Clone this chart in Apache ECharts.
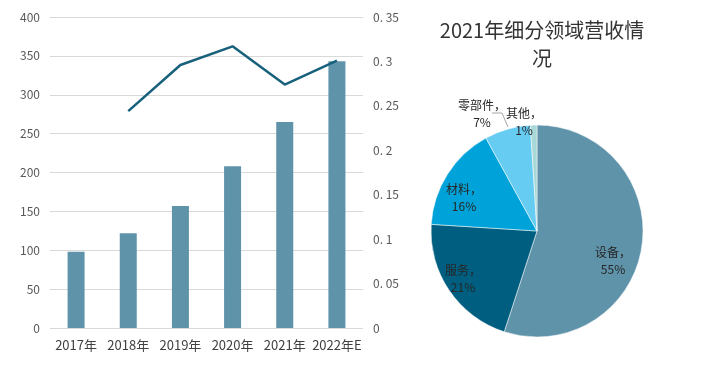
<!DOCTYPE html>
<html><head><meta charset="utf-8">
<script src="https://cdn.jsdelivr.net/npm/echarts@6/dist/echarts.min.js"></script>
<style>html,body{margin:0;padding:0;background:#fff}#c{width:702px;height:367px}</style>
</head><body><div id="c"></div>
<script>
const years = ['2017年','2018年','2019年','2020年','2021年','2022年E'];
const revenue = [98, 122, 157, 208, 265, 343];
const growth = [null, 0.244, 0.296, 0.317, 0.274, 0.301];
const leftTicks = {min: 0, max: 400, interval: 50};
const rightTicks = {min: 0, max: 0.35, interval: 0.05};
const pieNames = ['设备','服务','材料','零部件','其他'];
const pieValues = [55, 21, 16, 7, 1];
const pieColors = ['#5f93aa','#005f80','#00a3d9','#66ccf2','#a8d8d8'];
const pieTitle = '2021年细分领域营收情\n况';

const font = 'Noto Sans CJK SC';
const chart = echarts.init(document.getElementById('c'), null, {renderer:'canvas'});
// label offsets (px) relative to pie center, for each slice label
const labelPos = [[76,30],[-74,48],[-73,-33],[-55,-117],[-13,-109]];
const pieCx = 537, pieCy = 231;
chart.setOption({
  animation: false,
  backgroundColor: '#fff',
  textStyle: {fontFamily: font},
  title: {
    text: pieTitle, left: pieCx, top: 11, textAlign: 'center',
    textStyle: {fontFamily: font, fontSize: 20, fontWeight: 'normal', color: '#333', lineHeight: 28}
  },
  grid: {left: 50, right: 339, top: 17, bottom: 39},
  xAxis: {
    type: 'category', data: years,
    axisLine: {show: false}, axisTick: {show: false},
    axisLabel: {color: '#404040', fontSize: 13, margin: 11, interval: 0}
  },
  yAxis: [
    {type: 'value', min: leftTicks.min, max: leftTicks.max, interval: leftTicks.interval,
     axisLine: {show: false}, axisTick: {show: false},
     axisLabel: {color: '#595959', fontSize: 12, margin: 10},
     splitLine: {lineStyle: {color: '#d9d9d9', width: 1}}},
    {type: 'value', min: rightTicks.min, max: rightTicks.max, interval: rightTicks.interval,
     axisLine: {show: false}, axisTick: {show: false},
     axisLabel: {color: '#595959', fontSize: 12, margin: 10,
       formatter: v => v === 0 ? '0' : String(+v.toFixed(2)).replace('.', '. ')},
     splitLine: {show: false}}
  ],
  series: [
    {type: 'bar', data: revenue, barWidth: 17, itemStyle: {color: '#5f93aa'}, yAxisIndex: 0},
    {type: 'line', data: growth, yAxisIndex: 1, symbol: 'none', connectNulls: false,
     lineStyle: {color: '#17617c', width: 2.5}},
    {type: 'pie', center: [pieCx, pieCy], radius: 106, startAngle: 90, clockwise: true,
     data: pieNames.map((n,i) => ({name: n, value: pieValues[i], itemStyle: {color: pieColors[i]}})),
     itemStyle: {borderColor: '#fff', borderWidth: 0.5},
     label: {show: true, position: 'inside', formatter: '{b}，\n{d}%', color: '#262626',
       fontSize: 12, lineHeight: 17, fontFamily: font, align: 'center'},
     labelLine: {show: false},
     labelLayout: function (p) {
       const o = labelPos[p.dataIndex];
       return {x: pieCx + o[0], y: pieCy + o[1], align: 'center', verticalAlign: 'middle'};
     }
    }
  ],
  graphic: [{
    type: 'polyline', shape: {points: [[492, 113], [502, 113], [508, 127]]},
    style: {stroke: '#a6a6a6', lineWidth: 1, fill: null}
  }]
});
</script></body></html>
